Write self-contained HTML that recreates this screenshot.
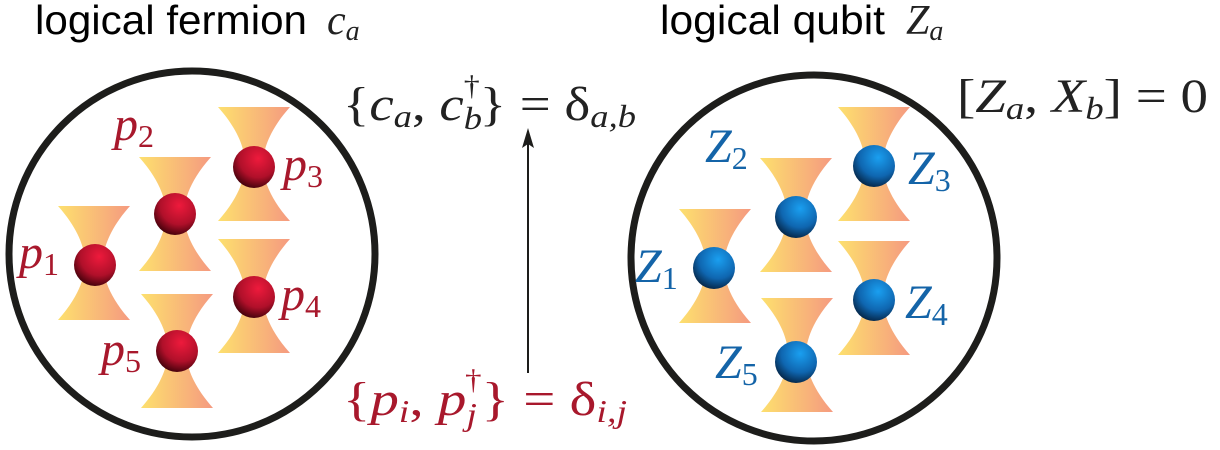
<!DOCTYPE html>
<html><head><meta charset="utf-8"><style>
body{margin:0;background:#fff;width:1220px;height:450px;overflow:hidden}
svg{display:block}
text{font-family:"Liberation Serif","DejaVu Serif",serif;font-style:italic}
.s{font-family:"Liberation Sans",sans-serif;font-style:normal}
.n{font-style:normal}
.r{fill:#a8182c}.b{fill:#1464a8}
</style></head><body>
<svg width="1220" height="450" viewBox="0 0 1220 450">
<defs>
<linearGradient id="tw" x1="0" x2="1" y1="0" y2="0"><stop offset="0" stop-color="#fde06e"/><stop offset="1" stop-color="#f59a80"/></linearGradient>
<radialGradient id="rs" cx="0.6" cy="0.3" r="0.75"><stop offset="0" stop-color="#ee1a3c"/><stop offset="0.6" stop-color="#b0102a"/><stop offset="1" stop-color="#3a0008"/></radialGradient>
<radialGradient id="bs" cx="0.6" cy="0.3" r="0.75"><stop offset="0" stop-color="#1a9ff0"/><stop offset="0.6" stop-color="#0f66b0"/><stop offset="1" stop-color="#04203e"/></radialGradient>
<path id="tz" d="M-36,-57 L36,-57 C12,-30 9,-10 9,0 C9,10 12,30 36,57 L-36,57 C-12,30 -9,10 -9,0 C-9,-10 -12,-30 -36,-57Z" fill="url(#tw)"/>
</defs>
<text class="s" x="35" y="34" font-size="41" textLength="272" lengthAdjust="spacingAndGlyphs">logical fermion</text>
<text x="327" y="34" font-size="42" fill="#222">c<tspan font-size="28" dy="6">a</tspan></text>
<text class="s" x="660" y="34" font-size="41" textLength="225" lengthAdjust="spacingAndGlyphs">logical qubit</text>
<text x="906" y="34" font-size="42" fill="#222">Z<tspan font-size="28" dy="6">a</tspan></text>

<g>
<circle cx="192" cy="254" r="183" fill="none" stroke="#1d1d1b" stroke-width="7"/>
<use href="#tz" x="94" y="263"/><use href="#tz" x="175" y="214"/><use href="#tz" x="254" y="164"/><use href="#tz" x="254" y="296"/><use href="#tz" x="177" y="351"/>
<circle cx="95" cy="265" r="21" fill="url(#rs)"/><circle cx="175" cy="214" r="21" fill="url(#rs)"/><circle cx="254" cy="167" r="21" fill="url(#rs)"/><circle cx="254" cy="297" r="21" fill="url(#rs)"/><circle cx="177" cy="351" r="21" fill="url(#rs)"/>
<g class="r" font-size="48">
<text x="19" y="268">p<tspan class="n" font-size="32" dy="7">1</tspan></text>
<text x="114" y="140">p<tspan class="n" font-size="32" dy="7">2</tspan></text>
<text x="283" y="180">p<tspan class="n" font-size="32" dy="7">3</tspan></text>
<text x="281" y="310">p<tspan class="n" font-size="32" dy="7">4</tspan></text>
<text x="101" y="365">p<tspan class="n" font-size="32" dy="7">5</tspan></text>
</g></g>

<g>
<circle cx="814" cy="258" r="183" fill="none" stroke="#1d1d1b" stroke-width="7"/>
<use href="#tz" x="715" y="266"/><use href="#tz" x="796" y="215"/><use href="#tz" x="874" y="164"/><use href="#tz" x="874" y="298"/><use href="#tz" x="797" y="355"/>
<circle cx="714" cy="268" r="21" fill="url(#bs)"/><circle cx="796" cy="217" r="21" fill="url(#bs)"/><circle cx="874" cy="166" r="21" fill="url(#bs)"/><circle cx="874" cy="300" r="21" fill="url(#bs)"/><circle cx="796" cy="362" r="21" fill="url(#bs)"/>
<g class="b" font-size="48">
<text x="635" y="282">Z<tspan class="n" font-size="32" dy="7">1</tspan></text>
<text x="705" y="162">Z<tspan class="n" font-size="32" dy="7">2</tspan></text>
<text x="908" y="184">Z<tspan class="n" font-size="32" dy="7">3</tspan></text>
<text x="905" y="318">Z<tspan class="n" font-size="32" dy="7">4</tspan></text>
<text x="715" y="378">Z<tspan class="n" font-size="32" dy="7">5</tspan></text>
</g></g>

<g>
<line x1="528" y1="373" x2="528" y2="140" stroke="#1d1d1b" stroke-width="2"/>
<path d="M522,148 L528,128 L534,148 L528,144Z" fill="#1d1d1b"/>
</g>
<text x="343" y="120" font-size="48" fill="#222" textLength="293" lengthAdjust="spacingAndGlyphs"><tspan class="n">{</tspan>c<tspan font-size="32" dy="7">a</tspan><tspan dy="-7" class="n">, </tspan>c<tspan font-size="32" dy="9">b</tspan><tspan font-size="28" class="n" dx="-16" dy="-34">†</tspan><tspan class="n" dy="25">} = δ</tspan><tspan font-size="32" dy="7">a,b</tspan></text>
<text x="343" y="415" font-size="48" class="r" textLength="284" lengthAdjust="spacingAndGlyphs"><tspan class="n">{</tspan>p<tspan font-size="32" dy="7">i</tspan><tspan dy="-7" class="n">, </tspan>p<tspan font-size="32" dy="10">j</tspan><tspan font-size="28" class="n" dx="-10" dy="-36">†</tspan><tspan class="n" dy="26">} = δ</tspan><tspan font-size="32" dy="7">i,j</tspan></text>
<text x="957" y="112" font-size="48" fill="#222" textLength="251" lengthAdjust="spacingAndGlyphs"><tspan class="n">[</tspan>Z<tspan font-size="32" dy="7">a</tspan><tspan dy="-7" class="n">, </tspan>X<tspan font-size="32" dy="7">b</tspan><tspan class="n" dy="-7">] = 0</tspan></text>
</svg>
</body></html>
